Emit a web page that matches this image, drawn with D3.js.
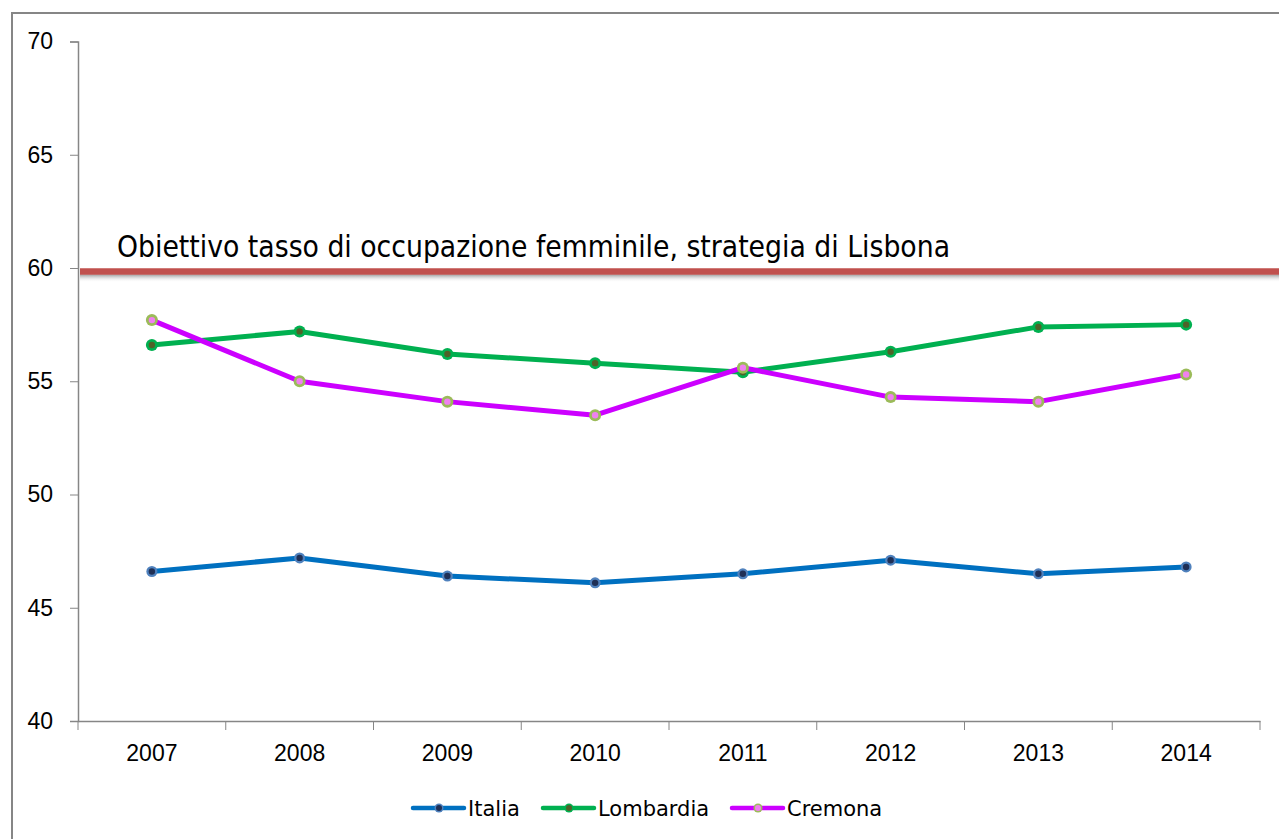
<!DOCTYPE html>
<meta charset="utf-8">
<style>
body { margin: 0; background: #fff; }
svg { display: block; }
text { font-family: 'Liberation Sans', sans-serif; fill: #000; }
.legend text, .note { font-family: 'DejaVu Sans', sans-serif; }
</style>
<body>
<script src="https://cdnjs.cloudflare.com/ajax/libs/d3/7.8.5/d3.min.js"></script>
<script>
var years = ['2007', '2008', '2009', '2010', '2011', '2012', '2013', '2014']
var italia = [46.6, 47.2, 46.4, 46.1, 46.5, 47.1, 46.5, 46.8]
var lombardia = [56.6, 57.2, 56.2, 55.8, 55.4, 56.3, 57.4, 57.5]
var cremona = [57.7, 55.0, 54.1, 53.5, 55.6, 54.3, 54.1, 55.3]
var yTicks = [40, 45, 50, 55, 60, 65, 70]
var target = 59.85
var targetLabel = 'Obiettivo tasso di occupazione femminile, strategia di Lisbona'

var series = [
    { name: 'Italia', values: italia, line: '#0070c0', ring: '#4f81bd', dot: '#1f2f55', r: 5.5, legendX: 413 },
    { name: 'Lombardia', values: lombardia, line: '#00b050', ring: '#00b050', dot: '#4f6228', r: 6, legendX: 543 },
    { name: 'Cremona', values: cremona, line: '#cc00ff', ring: '#9bbb59', dot: '#f080f0', r: 6, legendX: 732 }
]

var width = 1279
var height = 839

var x = d3.scaleBand()
    .domain(years)
    .range([78, 1260])

var y = d3.scaleLinear()
    .domain([40, 70])
    .range([721, 41.5])

var svg = d3.select('body')
    .append('svg')
    .attr('width', width)
    .attr('height', height)

// outer frame
svg.append('rect')
    .attr('x', 12)
    .attr('y', 13)
    .attr('width', width + 10)
    .attr('height', height + 10)
    .attr('fill', 'none')
    .attr('stroke', '#868686')
    .attr('stroke-width', 2)

// y axis
var yAxis = svg.append('g')
    .attr('transform', 'translate(78,0)')
    .call(d3.axisLeft(y).tickValues(yTicks).tickSize(8).tickPadding(17))
yAxis.select('.domain').attr('stroke', '#868686').attr('stroke-width', 1.5)
yAxis.selectAll('.tick line').attr('stroke', '#868686')
yAxis.selectAll('.tick text')
    .style('font-size', '23px')
    .style('font-family', "'Liberation Sans', sans-serif")
    .attr('fill', '#000')

// x axis with ticks at band boundaries
var xAxis = svg.append('g')
    .attr('transform', 'translate(0,721)')
    .call(d3.axisBottom(x).tickSize(0).tickPadding(24))
xAxis.select('.domain').attr('stroke', '#868686').attr('stroke-width', 1.5)
xAxis.selectAll('.tick text')
    .style('font-size', '23px')
    .style('font-family', "'Liberation Sans', sans-serif")
    .attr('fill', '#000')

var bounds = years.map(function (d) { return x(d) }).concat([x.range()[1]])
xAxis.selectAll('.bound')
    .data(bounds)
    .enter().append('line')
    .attr('class', 'bound')
    .attr('x1', function (d) { return d })
    .attr('x2', function (d) { return d })
    .attr('y1', 0)
    .attr('y2', 9)
    .attr('stroke', '#868686')

// target line with soft shadow
var defs = svg.append('defs')
var grad = defs.append('linearGradient')
    .attr('id', 'shadow')
    .attr('x1', 0).attr('y1', 0).attr('x2', 0).attr('y2', 1)
grad.append('stop').attr('offset', '0%').attr('stop-color', '#9a9a9a')
grad.append('stop').attr('offset', '100%').attr('stop-color', '#fff').attr('stop-opacity', 0)

svg.append('rect')
    .attr('x', 80)
    .attr('y', y(target) + 3)
    .attr('width', width - 80)
    .attr('height', 8)
    .attr('fill', 'url(#shadow)')

svg.append('line')
    .attr('x1', 80)
    .attr('x2', width)
    .attr('y1', y(target))
    .attr('y2', y(target))
    .attr('stroke', '#c0504d')
    .attr('stroke-width', 6.5)

svg.append('text')
    .attr('class', 'note')
    .attr('x', 117)
    .attr('y', 257)
    .attr('textLength', 833)
    .attr('lengthAdjust', 'spacingAndGlyphs')
    .style('font-size', '30px')
    .text(targetLabel)

// series
var line = d3.line()
    .x(function (d, i) { return x(years[i]) + x.bandwidth() / 2 })
    .y(function (d) { return y(d) })

var groups = svg.selectAll('.series')
    .data(series)
    .enter().append('g')
    .attr('class', 'series')

groups.append('path')
    .attr('d', function (d) { return line(d.values) })
    .attr('fill', 'none')
    .attr('stroke', function (d) { return d.line })
    .attr('stroke-width', 5)
    .attr('stroke-linejoin', 'round')

groups.each(function (s) {
    var g = d3.select(this)
    g.selectAll('.ring')
        .data(s.values)
        .enter().append('circle')
        .attr('class', 'ring')
        .attr('cx', function (d, i) { return x(years[i]) + x.bandwidth() / 2 })
        .attr('cy', function (d) { return y(d) })
        .attr('r', s.r)
        .attr('fill', s.ring)
    g.selectAll('.dot')
        .data(s.values)
        .enter().append('circle')
        .attr('class', 'dot')
        .attr('cx', function (d, i) { return x(years[i]) + x.bandwidth() / 2 })
        .attr('cy', function (d) { return y(d) })
        .attr('r', 3.2)
        .attr('fill', s.dot)
})

// legend
var legend = svg.append('g')
    .attr('class', 'legend')
    .selectAll('g')
    .data(series)
    .enter().append('g')
    .attr('transform', function (d) { return 'translate(' + d.legendX + ',808)' })

legend.append('line')
    .attr('x1', 0)
    .attr('x2', 51)
    .attr('stroke', function (d) { return d.line })
    .attr('stroke-width', 4.5)
    .attr('stroke-linecap', 'round')

legend.append('circle')
    .attr('cx', 26)
    .attr('r', 4.5)
    .attr('fill', function (d) { return d.ring })
legend.append('circle')
    .attr('cx', 26)
    .attr('r', 3)
    .attr('fill', function (d) { return d.dot })

legend.append('text')
    .attr('x', 55)
    .attr('y', 8)
    .style('font-size', '21px')
    .text(function (d) { return d.name })
</script>
</body>
